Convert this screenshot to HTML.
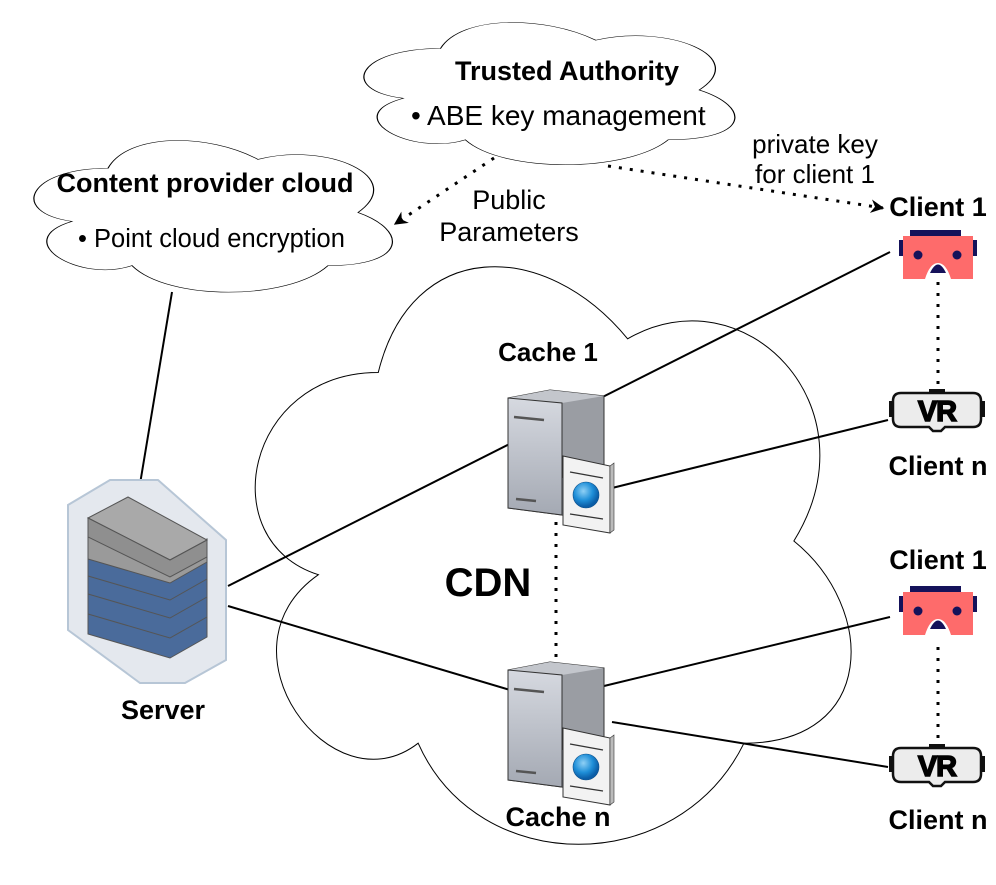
<!DOCTYPE html>
<html><head><meta charset="utf-8"><style>
html,body{margin:0;padding:0;background:#fff;}
svg{display:block;}
text{font-family:"Liberation Sans",Arial,sans-serif;fill:#000;}
.b{font-weight:bold;}
</style></head><body>
<svg width="996" height="885" viewBox="0 0 996 885" xmlns="http://www.w3.org/2000/svg">
<defs>
<path id="cl" d="M25 25 C5 25 0 50 16 55 C0 66 18 90 31 80 C40 100 70 100 80 80 C100 80 100 60 87.5 50 C100 30 80 10 62.5 20 C50 5 30 5 25 25 Z"/>
<marker id="ah" viewBox="0 0 10 10" refX="9" refY="5" markerWidth="4.5" markerHeight="4.5" orient="auto"><path d="M0 0 L10 5 L0 10 L3 5 Z" fill="#000"/></marker>
<linearGradient id="sf" x1="0" y1="0" x2="0" y2="1"><stop offset="0" stop-color="#d6d9e0"/><stop offset="1" stop-color="#a4a9b3"/></linearGradient>
<radialGradient id="gl" cx="0.4" cy="0.35" r="0.6"><stop offset="0" stop-color="#8fd0f5"/><stop offset="0.6" stop-color="#1f8fd8"/><stop offset="1" stop-color="#0b5da6"/></radialGradient>
<g id="cache">
 <path d="M0 8 L42 0 L96 6 L96 112 L54 125 L0 118 Z" fill="#9a9da3" stroke="#333" stroke-width="1"/>
 <path d="M0 8 L42 0 L96 6 L54 13 Z" fill="#c3c6cc"/>
 <path d="M0 8 L54 13 L54 125 L0 118 Z" fill="url(#sf)" stroke="#333" stroke-width="1"/>
 <path d="M54 88 L96 80 L96 112 L54 125 Z" fill="#5d6168"/>
 <line x1="6" y1="27" x2="36" y2="30" stroke="#555" stroke-width="2.5"/>
 <line x1="8" y1="109" x2="28" y2="111" stroke="#555" stroke-width="2.5"/>
 <path d="M55 66 L102 76 L102 143 L55 135 Z" fill="#f2f2f2" stroke="#333" stroke-width="1"/>
 <path d="M102 76 L106 73 L106 140 L102 143 Z" fill="#bbb" stroke="#333" stroke-width="0.6"/>
 <line x1="62" y1="82" x2="95" y2="88" stroke="#333" stroke-width="1.3"/>
 <line x1="62" y1="124" x2="95" y2="129" stroke="#333" stroke-width="1.3"/>
 <circle cx="78" cy="105" r="13" fill="url(#gl)" stroke="#0b4f8a" stroke-width="0.6"/>
</g>
<g id="red">
 <rect x="11" y="0" width="51" height="6" fill="#15125a"/>
 <rect x="0" y="10" width="5" height="16" fill="#15125a"/>
 <rect x="73" y="10" width="5" height="16" fill="#15125a"/>
 <path d="M4 6 H74 V49 H52 Q47 33 39 33 Q31 33 26 49 H4 Z" fill="#fe6b6b"/>
 <path d="M31 43 Q39 26 47 43 Z" fill="#15125a"/>
 <circle cx="19" cy="25" r="4.5" fill="#15125a"/>
 <circle cx="58" cy="25" r="4.5" fill="#15125a"/>
</g>
<g id="vr">
 <rect x="40" y="0" width="16" height="5" fill="#111"/>
 <rect x="0" y="12" width="4" height="16" fill="#111"/>
 <rect x="92" y="12" width="4" height="16" fill="#111"/>
 <path d="M12 4 H84 Q92 4 92 12 V30 Q92 38 84 38 H56 L52 42 H44 L40 38 H12 Q4 38 4 30 V12 Q4 4 12 4 Z" fill="#ececec" stroke="#111" stroke-width="2.5"/>
 <text x="48" y="32" text-anchor="middle" font-size="29" class="b" stroke="#000" stroke-width="1.5" style="letter-spacing:-1px">VR</text>
</g>
</defs>

<g fill="#fff" stroke="#000">
 <use href="#cl" transform="translate(212,204) scale(6.65,6.74)" stroke-width="0.15"/>
 <use href="#cl" transform="translate(337,7) scale(4.14,1.66)" stroke-width="0.3"/>
 <use href="#cl" transform="translate(8,124) scale(4.0,1.77)" stroke-width="0.3"/>
</g>

<g stroke="#000" stroke-width="2" fill="none">
 <line x1="172" y1="292" x2="140" y2="484"/>
 <line x1="228" y1="586" x2="890" y2="252"/>
 <line x1="228" y1="606" x2="510" y2="690"/>
 <line x1="612" y1="488" x2="888" y2="420"/>
 <line x1="604" y1="686" x2="890" y2="617"/>
 <line x1="612" y1="722" x2="888" y2="767"/>
</g>
<g stroke="#000" stroke-width="3" stroke-dasharray="3,8" fill="none">
 <line x1="556" y1="522" x2="556" y2="658"/>
 <line x1="938" y1="282" x2="938" y2="388"/>
 <line x1="938" y1="647" x2="938" y2="744"/>
 <line x1="494" y1="158" x2="395" y2="224" marker-end="url(#ah)"/>
 <line x1="608" y1="166" x2="883" y2="208" marker-end="url(#ah)"/>
</g>

<g>
 <path d="M110 480 L158 480 L226 540 L226 660 L185 683 L140 683 L68 630 L68 505 Z" fill="#e4e8ee" stroke="#b7c6d6" stroke-width="2"/>
 <g stroke="#555" stroke-width="1">
  <path d="M88 610 L170 633 L207 614 L207 637 L170 658 L88 634 Z" fill="#4a6b9b"/>
  <path d="M88 590 L170 613 L207 594 L207 617 L170 638 L88 614 Z" fill="#4a6b9b"/>
  <path d="M88 570 L170 593 L207 574 L207 597 L170 618 L88 594 Z" fill="#4a6b9b"/>
  <path d="M88 552 L170 575 L207 556 L207 579 L170 600 L88 576 Z" fill="#4a6b9b"/>
  <path d="M88 535 L170 558 L207 539 L207 562 L170 583 L88 559 Z" fill="#9a9a9a"/>
  <path d="M88 518 L128 497 L207 540 L170 560 Z" fill="#a9a9a9"/>
  <path d="M88 518 L170 560 L207 540 L207 557 L170 577 L88 537 Z" fill="#8f8f8f"/>
 </g>
</g>

<use href="#cache" x="508" y="390"/>
<use href="#cache" x="508" y="662"/>

<use href="#red" x="899" y="230"/>
<use href="#red" x="899" y="586"/>
<use href="#vr" x="889" y="389"/>
<use href="#vr" x="889" y="744"/>

<text x="567" y="80" text-anchor="middle" font-size="27" class="b">Trusted Authority</text>
<text x="411" y="125" font-size="28">• ABE key management</text>
<text x="205" y="192" text-anchor="middle" font-size="27" class="b">Content provider cloud</text>
<text x="78" y="247" font-size="25.5">• Point cloud encryption</text>
<text x="509" y="209" text-anchor="middle" font-size="27">Public</text>
<text x="509" y="241" text-anchor="middle" font-size="27">Parameters</text>
<text x="815" y="153" text-anchor="middle" font-size="26">private key</text>
<text x="815" y="183" text-anchor="middle" font-size="26">for client 1</text>
<text x="938" y="216" text-anchor="middle" font-size="27" class="b">Client 1</text>
<text x="548" y="361" text-anchor="middle" font-size="26" class="b">Cache 1</text>
<text x="488" y="596" text-anchor="middle" font-size="40" class="b">CDN</text>
<text x="938" y="475" text-anchor="middle" font-size="27" class="b">Client n</text>
<text x="938" y="569" text-anchor="middle" font-size="27" class="b">Client 1</text>
<text x="163" y="719" text-anchor="middle" font-size="27" class="b">Server</text>
<text x="558" y="826" text-anchor="middle" font-size="27" class="b">Cache n</text>
<text x="938" y="829" text-anchor="middle" font-size="27" class="b">Client n</text>
</svg>
</body></html>
